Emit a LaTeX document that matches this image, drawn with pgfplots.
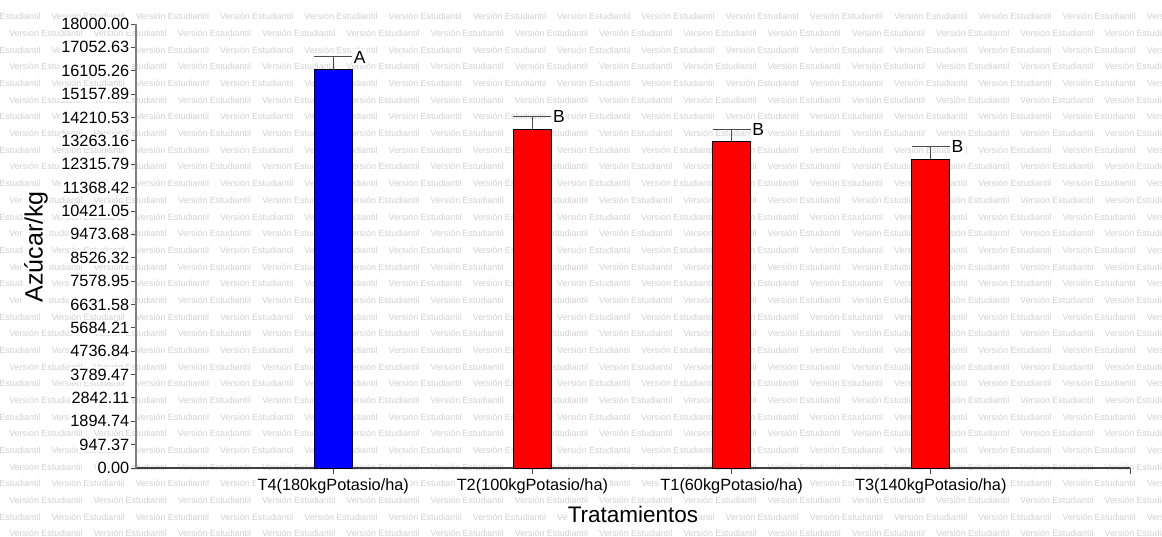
\documentclass[border=0pt]{standalone}
\usepackage{fontspec}
\setmainfont{Liberation Sans}
\usepackage{pgfplots}
\pgfplotsset{compat=1.18}
\begin{document}
\begin{tikzpicture}[x=1pt,y=1pt]
\path[use as bounding box] (0,0) rectangle (1162,537);
\begin{scope}
\clip (0,0) rectangle (1162,537);
\foreach \k in {1,...,32}{
  \pgfmathsetmacro{\yy}{537-16.67*\k-3.3}
  \pgfmathsetmacro{\xo}{isodd(\k) ? -32.9 : 9.1}
  \foreach \n in {0,...,14}{
    \node[anchor=base west, inner sep=0pt, text=black!18, font=\fontsize{8.9}{10}\selectfont] at ({\xo+84.25*\n},\yy) {Versión Estudiantil};
  }
}
\end{scope}
\begin{axis}[
  at={(136pt,69pt)}, anchor=south west, scale only axis,
  width=994pt, height=444pt,
  xmin=-0.99, xmax=4.0, ymin=0, ymax=18000,
  axis lines=left,
  x axis line style={-, draw=black!75, line width=1.1pt},
  y axis line style={-, draw=black!50, line width=1.8pt},
  every tick/.style={draw=black!70, line width=0.8pt},
  tick align=outside, major tick length=6pt,
  scaled y ticks=false,
  xtick={0,1,2,3},
  xticklabels={T4(180kgPotasio/ha),T2(100kgPotasio/ha),T1(60kgPotasio/ha),T3(140kgPotasio/ha)},
  extra x ticks={4}, extra x tick labels={},
  ytick={0,947.3684,1894.7368,2842.1053,3789.4737,4736.8421,5684.2105,6631.5789,7578.9474,8526.3158,9473.6842,10421.0526,11368.4211,12315.7895,13263.1579,14210.5263,15157.8947,16105.2632,17052.6316,18000},
  yticklabels={0.00,947.37,1894.74,2842.11,3789.47,4736.84,5684.21,6631.58,7578.95,8526.32,9473.68,10421.05,11368.42,12315.79,13263.16,14210.53,15157.89,16105.26,17052.63,18000.00},
  /pgf/number format/assume math mode=true,
  tick label style={font=\fontsize{16.3}{18}\selectfont, fill=white, inner sep=1.5pt},
  xticklabel style={yshift=-3pt},
  yticklabel style={xshift=1pt},
  xlabel={Tratamientos},
  xlabel style={at={(axis description cs:0.5,0)}, anchor=base, yshift=-55pt, font=\fontsize{22.5}{26}\selectfont, fill=white, inner sep=1pt},
  ylabel={Azúcar/kg},
  ylabel style={at={(axis description cs:-0.1006,0.498)}, anchor=center, font=\fontsize{25}{28}\selectfont, fill=white, inner sep=1pt},
  clip=false,
]
\addplot[ybar, bar width=38pt, bar shift=0pt, fill={rgb,255:red,0;green,0;blue,255}, draw=black, line width=0.7pt,
  error bars/.cd, y dir=plus, y explicit, error mark=|, error mark options={mark size=19pt, line width=1pt, draw=black!70},
  error bar style={line width=1pt, draw=black!70}]
  coordinates {(0,16147) +- (0,515)};
\addplot[ybar, bar width=38pt, bar shift=0pt, fill={rgb,255:red,255;green,0;blue,0}, draw=black, line width=0.7pt,
  error bars/.cd, y dir=plus, y explicit, error mark=|, error mark options={mark size=19pt, line width=1pt, draw=black!70},
  error bar style={line width=1pt, draw=black!70}]
  coordinates {(1,13731) +- (0,511) (2,13229) +- (0,502) (3,12514) +- (0,512)};
\addplot[draw=none, mark=none, nodes near coords, point meta=explicit symbolic,
  nodes near coords style={anchor=west, xshift=19pt, font=\fontsize{17.5}{20}\selectfont, fill=white, inner sep=1.5pt}]
  coordinates {(0,16662)[A] (1,14242)[B] (2,13731)[B] (3,13026)[B]};
\end{axis}
\end{tikzpicture}
\end{document}
